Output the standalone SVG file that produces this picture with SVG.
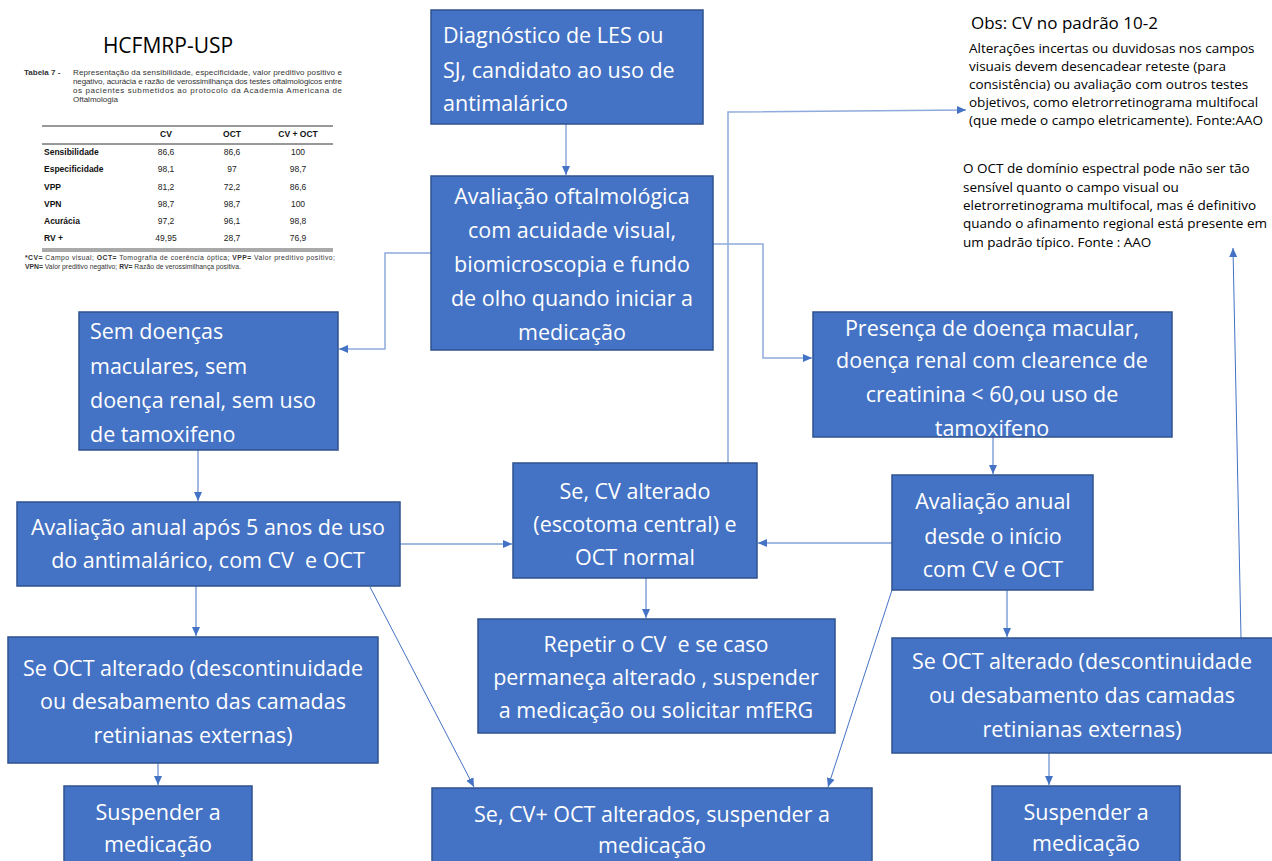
<svg xmlns="http://www.w3.org/2000/svg" width="1272" height="861" viewBox="0 0 1272 861">
<style>
.box{fill:#4472C4;stroke:#2F528F;stroke-width:1.5}
.bt{font-family:"Open Sans","Noto Sans",sans-serif;font-size:21.5px;fill:#ffffff;white-space:pre}
.c{text-anchor:middle}
.ln{fill:none;stroke:#4472C4;stroke-width:1}
.lt{fill:none;stroke:#8FAADC;stroke-width:1.5}
.nt{font-family:"Open Sans","Noto Sans",sans-serif;font-size:13.5px;fill:#000}
.tb{font-family:"Liberation Sans",Arial,sans-serif;font-size:8.5px;fill:#222}
.tbb{font-family:"Liberation Sans",Arial,sans-serif;font-size:8.5px;font-weight:bold;fill:#111}
.cap{font-family:"Liberation Sans",Arial,sans-serif;font-size:8px;fill:#333}
.fn{font-family:"Liberation Sans",Arial,sans-serif;font-size:6.8px;fill:#333}
</style>
<defs>
<marker id="ah" markerWidth="10" markerHeight="10" refX="9" refY="5" orient="auto" markerUnits="userSpaceOnUse">
<path d="M0,1 L9,5 L0,9 z" fill="#4472C4"/>
</marker>
</defs>
<rect width="1272" height="861" fill="#ffffff"/>

<g id="table">
<text x="168" y="53" text-anchor="middle" font-family="'Open Sans','Noto Sans',sans-serif" font-size="21px" fill="#000">HCFMRP-USP</text>
<text x="24" y="75" class="cap" font-weight="bold" fill="#111">Tabela 7 -</text>
<text x="73" y="75" class="cap" textLength="269" lengthAdjust="spacing">Representação da sensibilidade, especificidade, valor preditivo positivo e</text>
<text x="73" y="84" class="cap" textLength="269" lengthAdjust="spacing">negativo, acurácia e razão de verossimilhança dos testes oftalmológicos entre</text>
<text x="73" y="93" class="cap" textLength="269" lengthAdjust="spacing">os pacientes submetidos ao protocolo da Academia Americana de</text>
<text x="73" y="102" class="cap">Oftalmologia</text>
<line x1="42" y1="126" x2="333" y2="126" stroke="#333" stroke-width="1"/>
<text x="166" y="137" class="tbb" text-anchor="middle">CV</text>
<text x="232" y="137" class="tbb" text-anchor="middle">OCT</text>
<text x="298" y="137" class="tbb" text-anchor="middle">CV + OCT</text>
<line x1="42" y1="144" x2="333" y2="144" stroke="#333" stroke-width="1"/>
<g>
<text x="44" y="155" class="tbb">Sensibilidade</text>
<text x="166" y="155" class="tb" text-anchor="middle">86,6</text>
<text x="232" y="155" class="tb" text-anchor="middle">86,6</text>
<text x="298" y="155" class="tb" text-anchor="middle">100</text>
<text x="44" y="172" class="tbb">Especificidade</text>
<text x="166" y="172" class="tb" text-anchor="middle">98,1</text>
<text x="232" y="172" class="tb" text-anchor="middle">97</text>
<text x="298" y="172" class="tb" text-anchor="middle">98,7</text>
<text x="44" y="190" class="tbb">VPP</text>
<text x="166" y="190" class="tb" text-anchor="middle">81,2</text>
<text x="232" y="190" class="tb" text-anchor="middle">72,2</text>
<text x="298" y="190" class="tb" text-anchor="middle">86,6</text>
<text x="44" y="207" class="tbb">VPN</text>
<text x="166" y="207" class="tb" text-anchor="middle">98,7</text>
<text x="232" y="207" class="tb" text-anchor="middle">98,7</text>
<text x="298" y="207" class="tb" text-anchor="middle">100</text>
<text x="44" y="224" class="tbb">Acurácia</text>
<text x="166" y="224" class="tb" text-anchor="middle">97,2</text>
<text x="232" y="224" class="tb" text-anchor="middle">96,1</text>
<text x="298" y="224" class="tb" text-anchor="middle">98,8</text>
<text x="44" y="241" class="tbb">RV +</text>
<text x="166" y="241" class="tb" text-anchor="middle">49,95</text>
<text x="232" y="241" class="tb" text-anchor="middle">28,7</text>
<text x="298" y="241" class="tb" text-anchor="middle">76,9</text>
</g>
<line x1="42" y1="249" x2="333" y2="249" stroke="#555" stroke-width="1"/>
<line x1="42" y1="251" x2="333" y2="251" stroke="#555" stroke-width="1"/>
<text x="25" y="260" class="fn" textLength="310" lengthAdjust="spacing"><tspan font-weight="bold">*CV=</tspan> Campo visual; <tspan font-weight="bold">OCT=</tspan> Tomografia de coerência óptica; <tspan font-weight="bold">VPP=</tspan> Valor preditivo positivo;</text>
<text x="25" y="269" class="fn"><tspan font-weight="bold">VPN=</tspan> Valor preditivo negativo; <tspan font-weight="bold">RV=</tspan> Razão de verossimilhança positiva.</text>
</g>

<g id="notes">
<text x="971" y="29" font-family="'Open Sans','Noto Sans',sans-serif" font-size="17px" fill="#000">Obs: CV no padrão 10-2</text>
<text class="nt"><tspan x="969" y="53">Alterações incertas ou duvidosas nos campos</tspan><tspan x="969" y="71">visuais devem desencadear reteste (para</tspan><tspan x="969" y="89">consistência) ou avaliação com outros testes</tspan><tspan x="969" y="107">objetivos, como eletrorretinograma multifocal</tspan><tspan x="969" y="125">(que mede o campo eletricamente). Fonte:AAO</tspan></text>
<text class="nt"><tspan x="963" y="173">O OCT de domínio espectral pode não ser tão</tspan><tspan x="963" y="192">sensível quanto o campo visual ou</tspan><tspan x="963" y="210">eletrorretinograma multifocal, mas é definitivo</tspan><tspan x="963" y="228">quando o afinamento regional está presente em</tspan><tspan x="963" y="247">um padrão típico. Fonte : AAO</tspan></text>
</g>

<g id="connectors">
<line class="lt" x1="566" y1="124" x2="566" y2="175" marker-end="url(#ah)"/>
<polyline class="lt" points="431,253 385,253 385,349 339,349" marker-end="url(#ah)"/>
<polyline class="lt" points="713,244 763,244 763,358 812,358" marker-end="url(#ah)"/>
<polyline class="lt" points="728,463 728,112 966,110" marker-end="url(#ah)"/>
<line class="ln" x1="198" y1="450" x2="198" y2="501" marker-end="url(#ah)"/>
<line class="ln" x1="400" y1="544" x2="512" y2="544" marker-end="url(#ah)"/>
<line class="ln" x1="892" y1="543" x2="758" y2="543" marker-end="url(#ah)"/>
<line class="ln" x1="993" y1="437" x2="993" y2="474" marker-end="url(#ah)"/>
<line class="ln" x1="646" y1="578" x2="646" y2="618" marker-end="url(#ah)"/>
<line class="ln" x1="196" y1="586" x2="196" y2="636" marker-end="url(#ah)"/>
<line class="ln" x1="370" y1="587" x2="474" y2="787" marker-end="url(#ah)"/>
<line class="ln" x1="158" y1="763" x2="158" y2="785" marker-end="url(#ah)"/>
<line class="ln" x1="892" y1="590" x2="828" y2="787" marker-end="url(#ah)"/>
<line class="ln" x1="1007" y1="590" x2="1007" y2="637" marker-end="url(#ah)"/>
<line class="ln" x1="1049" y1="753" x2="1049" y2="785" marker-end="url(#ah)"/>
<line class="ln" x1="1241" y1="638" x2="1233" y2="248" marker-end="url(#ah)"/>
</g>

<g id="n-diagnostico">
<rect class="box" x="431" y="10" width="272" height="114"/>
<text class="bt"><tspan x="443" y="43">Diagnóstico de LES ou</tspan><tspan x="443" y="78">SJ, candidato ao uso de</tspan><tspan x="443" y="111">antimalárico</tspan></text>
</g>

<g id="n-avaliacao-oftalmo">
<rect class="box" x="431" y="176" width="282" height="174"/>
<text class="bt c"><tspan x="572" y="204">Avaliação oftalmológica</tspan><tspan x="572" y="238">com acuidade visual,</tspan><tspan x="572" y="272">biomicroscopia e fundo</tspan><tspan x="572" y="306">de olho quando iniciar a</tspan><tspan x="572" y="340">medicação</tspan></text>
</g>

<g id="n-sem-doencas">
<rect class="box" x="79" y="312" width="259" height="138"/>
<text class="bt"><tspan x="90" y="339">Sem doenças</tspan><tspan x="90" y="374">maculares, sem</tspan><tspan x="90" y="408">doença renal, sem uso</tspan><tspan x="90" y="442">de tamoxifeno</tspan></text>
</g>

<g id="n-presenca">
<rect class="box" x="813" y="312" width="359" height="125"/>
<text class="bt c"><tspan x="992" y="336">Presença de doença macular,</tspan><tspan x="992" y="368">doença renal com clearence de</tspan><tspan x="992" y="402">creatinina &lt; 60,ou uso de</tspan><tspan x="992" y="436">tamoxifeno</tspan></text>
</g>

<g id="n-anual-5anos">
<rect class="box" x="17" y="502" width="383" height="84"/>
<text class="bt c" xml:space="preserve"><tspan x="208" y="535">Avaliação anual após 5 anos de uso</tspan><tspan x="208" y="568">do antimalárico, com CV  e OCT</tspan></text>
</g>

<g id="n-cv-alterado">
<rect class="box" x="513" y="463" width="244" height="115"/>
<text class="bt c"><tspan x="635" y="499">Se, CV alterado</tspan><tspan x="635" y="532">(escotoma central) e</tspan><tspan x="635" y="565">OCT normal</tspan></text>
</g>

<g id="n-anual-inicio">
<rect class="box" x="892" y="475" width="201" height="115"/>
<text class="bt c"><tspan x="993" y="509">Avaliação anual</tspan><tspan x="993" y="544">desde o início</tspan><tspan x="993" y="577">com CV e OCT</tspan></text>
</g>

<g id="n-oct-esq">
<rect class="box" x="8" y="637" width="370" height="126"/>
<text class="bt c"><tspan x="193" y="676">Se OCT alterado (descontinuidade</tspan><tspan x="193" y="709">ou desabamento das camadas</tspan><tspan x="193" y="743">retinianas externas)</tspan></text>
</g>

<g id="n-repetir">
<rect class="box" x="478" y="619" width="357" height="114"/>
<text class="bt c" xml:space="preserve"><tspan x="656" y="652">Repetir o CV  e se caso</tspan><tspan x="656" y="685">permaneça alterado , suspender</tspan><tspan x="656" y="718">a medicação ou solicitar mfERG</tspan></text>
</g>

<g id="n-oct-dir">
<rect class="box" x="892" y="638" width="382" height="115"/>
<text class="bt c"><tspan x="1082" y="669">Se OCT alterado (descontinuidade</tspan><tspan x="1082" y="703">ou desabamento das camadas</tspan><tspan x="1082" y="737">retinianas externas)</tspan></text>
</g>

<g id="n-suspender-esq">
<rect class="box" x="64" y="786" width="188" height="90"/>
<text class="bt c"><tspan x="158" y="820">Suspender a</tspan><tspan x="158" y="852">medicação</tspan></text>
</g>

<g id="n-cv-oct-alterados">
<rect class="box" x="432" y="788" width="440" height="90"/>
<text class="bt c"><tspan x="652" y="822">Se, CV+ OCT alterados, suspender a</tspan><tspan x="652" y="853">medicação</tspan></text>
</g>

<g id="n-suspender-dir">
<rect class="box" x="992" y="786" width="188" height="90"/>
<text class="bt c"><tspan x="1086" y="820">Suspender a</tspan><tspan x="1086" y="851">medicação</tspan></text>
</g>
</svg>
